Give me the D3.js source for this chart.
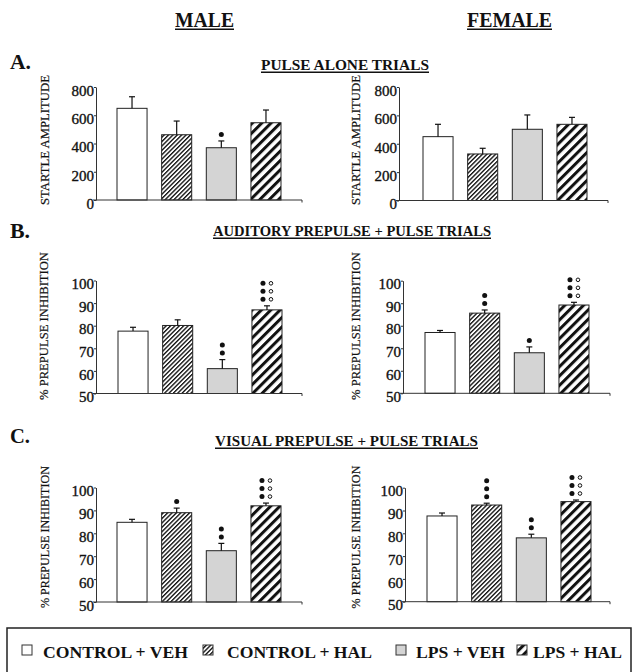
<!DOCTYPE html>
<html lang="en">
<head>
<meta charset="UTF-8">
<title>Startle and prepulse inhibition</title>
<script src="https://d3js.org/d3.v7.min.js"></script>
<style>
    body { margin: 0; background: #fff; }
    svg { display: block; }
    text { font-family: "Liberation Serif", "Times New Roman", serif; fill: #111; }
    .tick text { font-size: 15px; font-family: "Liberation Serif", "Times New Roman", serif; stroke: #111; stroke-width: 0.35px; }
    .tick line, .domain { stroke: #333; }
    .ylabel { font-size: 12.5px; stroke: #111; stroke-width: 0.2px; }
    .head { font-weight: bold; }
</style>
</head>
<body>
<svg id="chart" width="636" height="672"></svg>
<script>
const groups = ["CONTROL + VEH", "CONTROL + HAL", "LPS + VEH", "LPS + HAL"];

// A. pulse alone trials (startle amplitude)
const startleTicks = [0, 200, 400, 600, 800];
const startleMale = [649, 462, 370, 547];
const startleMaleErr = [82, 97, 48, 90];
const startleMaleFilled = [0, 0, 1, 0];
const startleMaleOpen = [0, 0, 0, 0];
const startleFemale = [450, 328, 502, 537];
const startleFemaleErr = [87, 40, 101, 49];
const startleFemaleFilled = [0, 0, 0, 0];
const startleFemaleOpen = [0, 0, 0, 0];

// B. auditory prepulse (% PPI)
const ppiTicks = [50, 60, 70, 80, 90, 100];
const audMale = [77.6, 80.1, 61, 87];
const audMaleErr = [1.7, 2.5, 4, 1.8];
const audMaleFilled = [0, 0, 2, 3];
const audMaleOpen = [0, 0, 0, 3];
const audFemale = [77, 85.6, 68, 89.2];
const audFemaleErr = [0.9, 1.4, 2.6, 1.2];
const audFemaleFilled = [0, 2, 1, 3];
const audFemaleOpen = [0, 0, 0, 3];

// C. visual prepulse (% PPI)
const visMale = [84.8, 89, 72.4, 92];
const visMaleErr = [1.3, 2, 3.2, 1.2];
const visMaleFilled = [0, 1, 2, 3];
const visMaleOpen = [0, 0, 0, 3];
const visFemale = [87.6, 92.4, 78, 93.9];
const visFemaleErr = [1.3, 0.8, 1.6, 0.7];
const visFemaleFilled = [0, 3, 2, 3];
const visFemaleOpen = [0, 0, 0, 3];

const svg = d3.select("#chart");

// fills for the four groups
const defs = svg.append("defs");
function stripes(id, gap, thick) {
    const p = defs.append("pattern")
        .attr("id", id)
        .attr("patternUnits", "userSpaceOnUse")
        .attr("width", gap).attr("height", gap)
        .attr("patternTransform", "rotate(45)");
    p.append("rect").attr("width", gap).attr("height", gap).attr("fill", "#fff");
    p.append("rect").attr("width", thick).attr("height", gap).attr("fill", "#111");
}
stripes("thin", 3.1, 1.35);
stripes("thick", 6.6, 3.0);
const fills = ["#fff", "url(#thin)", "#d4d4d4", "url(#thick)"];

const panels = [
    {axisX: 96, endX: 302, barX: 117, top: 87, bottom: 200, domain: [0, 800], ticks: startleTicks,
     values: startleMale, errs: startleMaleErr, filled: startleMaleFilled, open: startleMaleOpen,
     label: "STARTLE AMPLITUDE", labelLen: 130, labelX: 45, labelY: 140},
    {axisX: 399, endX: 608, barX: 423, top: 87, bottom: 200.5, domain: [0, 800], ticks: startleTicks,
     values: startleFemale, errs: startleFemaleErr, filled: startleFemaleFilled, open: startleFemaleOpen,
     label: "STARTLE AMPLITUDE", labelLen: 130, labelX: 356, labelY: 140},
    {axisX: 96, endX: 302, barX: 118, top: 280.5, bottom: 393.5, domain: [50, 100], ticks: ppiTicks,
     values: audMale, errs: audMaleErr, filled: audMaleFilled, open: audMaleOpen,
     label: "% PREPULSE INHIBITION", labelLen: 148, labelX: 44, labelY: 326},
    {axisX: 403, endX: 610, barX: 425, top: 280.7, bottom: 393.3, domain: [50, 100], ticks: ppiTicks,
     values: audFemale, errs: audFemaleErr, filled: audFemaleFilled, open: audFemaleOpen,
     label: "% PREPULSE INHIBITION", labelLen: 148, labelX: 356, labelY: 326},
    {axisX: 96, endX: 302, barX: 117, top: 487.5, bottom: 602, domain: [50, 100], ticks: ppiTicks,
     values: visMale, errs: visMaleErr, filled: visMaleFilled, open: visMaleOpen,
     label: "% PREPULSE INHIBITION", labelLen: 142, labelX: 45, labelY: 537},
    {axisX: 405, endX: 610, barX: 427, top: 487.7, bottom: 601.7, domain: [50, 100], ticks: ppiTicks,
     values: visFemale, errs: visFemaleErr, filled: visFemaleFilled, open: visFemaleOpen,
     label: "% PREPULSE INHIBITION", labelLen: 143, labelX: 356, labelY: 537}
];

panels.forEach(p => {
    const g = svg.append("g");
    const x = d3.scaleBand().domain(groups).range([p.barX, p.barX + 164]).paddingInner(0.327).paddingOuter(0);
    const y = d3.scaleLinear().domain(p.domain).range([p.bottom, p.top]);

    // bars
    g.selectAll("rect.bar")
        .data(groups)
        .enter().append("rect")
        .attr("class", "bar")
        .attr("x", d => x(d))
        .attr("y", (d, i) => y(p.values[i]))
        .attr("width", x.bandwidth())
        .attr("height", (d, i) => y(p.domain[0]) - y(p.values[i]))
        .attr("fill", (d, i) => fills[i])
        .attr("stroke", "#222")
        .attr("stroke-width", 1);

    // error bars, upward only
    groups.forEach((d, i) => {
        const cx = x(d) + x.bandwidth() / 2;
        const y0 = y(p.values[i]), y1 = y(p.values[i] + p.errs[i]);
        g.append("line").attr("x1", cx).attr("x2", cx).attr("y1", y0).attr("y2", y1)
            .attr("stroke", "#111").attr("stroke-width", 1.2);
        g.append("line").attr("x1", cx - 3).attr("x2", cx + 3).attr("y1", y1).attr("y2", y1)
            .attr("stroke", "#111").attr("stroke-width", 1.2);

        // significance markers
        const nf = p.filled[i], no = p.open[i];
        const rows = Math.max(nf, no);
        const fx = no > 0 ? cx - 4 : cx;
        for (let r = 0; r < rows; r++) {
            const my = y1 - 6.5 - r * 8;
            if (r < nf) g.append("circle").attr("cx", fx).attr("cy", my).attr("r", 2.5).attr("fill", "#111");
            if (r < no) g.append("circle").attr("cx", cx + 4).attr("cy", my).attr("r", 1.8)
                .attr("fill", "#fff").attr("stroke", "#111").attr("stroke-width", 1);
        }
    });

    // y axis
    const ax = g.append("g")
        .attr("transform", `translate(${p.axisX},0)`)
        .call(d3.axisLeft(y).tickValues(p.ticks).tickSize(2).tickSizeOuter(0).tickPadding(0).tickFormat(d3.format("d")));
    ax.attr("font-family", null).attr("font-size", null);
    ax.selectAll(".tick text").attr("dy", "0.55em");
    ax.select(".domain").attr("stroke", "#333");

    // baseline
    g.append("line").attr("x1", p.axisX - 3).attr("x2", p.endX)
        .attr("y1", p.bottom).attr("y2", p.bottom).attr("stroke", "#333");
    g.append("line").attr("x1", p.endX).attr("x2", p.endX)
        .attr("y1", p.bottom).attr("y2", p.bottom + 2.5).attr("stroke", "#333");

    g.append("text")
        .attr("class", "ylabel")
        .attr("transform", `translate(${p.labelX},${p.labelY}) rotate(-90)`)
        .attr("text-anchor", "middle")
        .attr("dy", "0.35em")
        .attr("textLength", p.labelLen)
        .attr("lengthAdjust", "spacingAndGlyphs")
        .text(p.label);
});

// headings with underlines
function heading(txt, x0, baseline, size, width, underline) {
    const t = svg.append("text")
        .attr("class", "head")
        .attr("x", x0).attr("y", baseline)
        .attr("font-size", size)
        .attr("textLength", width)
        .attr("lengthAdjust", "spacingAndGlyphs")
        .text(txt);
    if (underline) {
        svg.append("line").attr("x1", x0).attr("x2", x0 + width)
            .attr("y1", baseline + underline).attr("y2", baseline + underline)
            .attr("stroke", "#111").attr("stroke-width", 1.4);
    }
    return t;
}
heading("MALE", 175, 27, 20, 59, 2.2);
heading("FEMALE", 467, 27, 20, 85, 2.2);
heading("A.", 10, 69, 21, 21, 0);
heading("B.", 10, 238, 21, 20, 0);
heading("C.", 10, 443, 21, 20, 0);
heading("PULSE ALONE TRIALS", 261, 70, 14.5, 168, 2.2);
heading("AUDITORY PREPULSE + PULSE TRIALS", 213, 236, 14.5, 278, 2.2);
heading("VISUAL PREPULSE + PULSE TRIALS", 215, 446, 14.5, 263, 2.2);

// legend
const legendSquares = [22, 203, 396, 517];
const legendText = [43, 227, 416, 533];
const legendWidth = [145, 145, 89, 89];
svg.append("rect").attr("x", 7).attr("y", 628).attr("width", 624).attr("height", 60)
    .attr("fill", "none").attr("stroke", "#222").attr("stroke-width", 1.5);
groups.forEach((d, i) => {
    svg.append("rect").attr("x", legendSquares[i]).attr("y", 645).attr("width", 10).attr("height", 10)
        .attr("fill", fills[i]).attr("stroke", "#333").attr("stroke-width", 1);
    svg.append("text").attr("class", "head").attr("x", legendText[i]).attr("y", 658)
        .attr("font-size", 17.5)
        .attr("textLength", legendWidth[i])
        .attr("lengthAdjust", "spacingAndGlyphs")
        .text(d);
});
</script>
</body>
</html>
